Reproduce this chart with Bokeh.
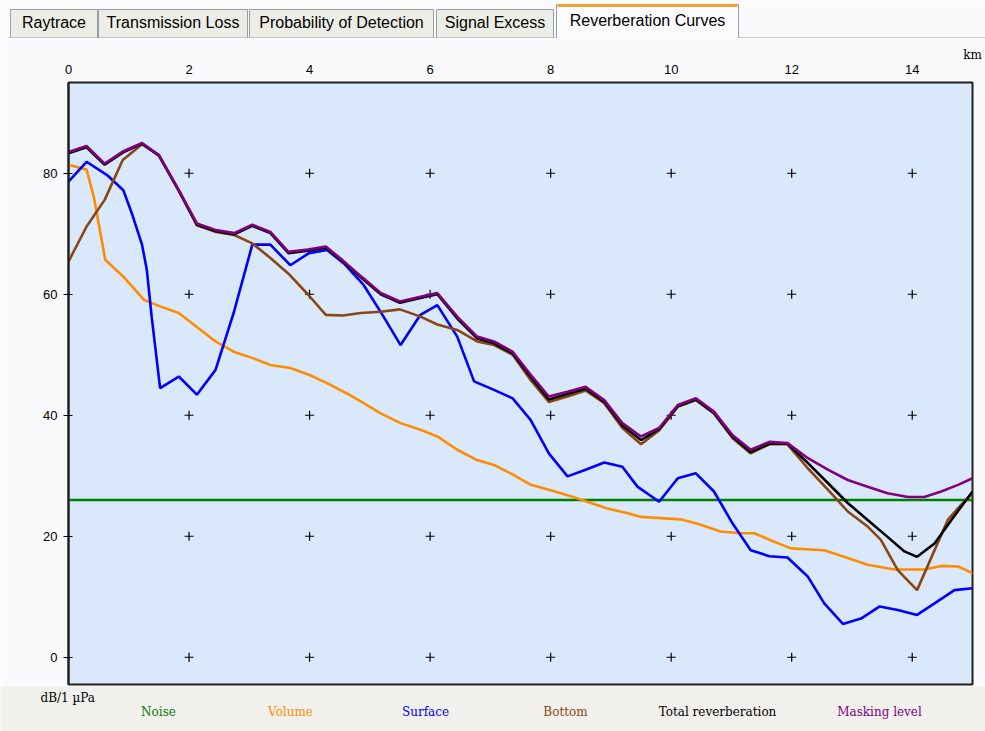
from bokeh.plotting import figure
from bokeh.models import Range1d, FixedTicker, LinearAxis, ColumnDataSource
from bokeh.layouts import column
from bokeh.core.properties import value
from bokeh.embed import file_html
from bokeh.resources import INLINE

# ---------------- data ----------------
km_ticks = [0, 2, 4, 6, 8, 10, 12, 14]
db_ticks = [0, 20, 40, 60, 80]
km_unit_tick = [15]

noise_x = [0, 15]
noise_y = [26, 26]

volume_x = [0, 0.3, 0.42, 0.61, 0.91, 1.25, 1.52, 1.83, 2.13, 2.44, 2.74, 3.07, 3.35, 3.68,
            3.99, 4.29, 4.62, 4.85, 5.18, 5.51, 5.84, 6.12, 6.45, 6.78, 7.06, 7.39, 7.67,
            7.97, 8.28, 8.61, 8.94, 9.28, 9.5, 9.83, 10.16, 10.49, 10.82, 11.16, 11.38,
            11.71, 11.99, 12.54, 12.93, 13.26, 13.7, 14.2, 14.48, 14.76, 15.0]
volume_y = [81.4, 80.6, 76.1, 65.7, 62.9, 59.1, 58.0, 56.9, 54.6, 52.2, 50.5, 49.4, 48.3, 47.8,
            46.7, 45.3, 43.6, 42.3, 40.3, 38.7, 37.6, 36.5, 34.3, 32.6, 31.8, 30.1, 28.5,
            27.7, 26.8, 25.7, 24.6, 23.8, 23.2, 23.0, 22.8, 21.9, 20.8, 20.5, 20.5,
            19.1, 18.0, 17.7, 16.4, 15.3, 14.5, 14.5, 15.1, 15.0, 13.9]

surface_x = [0, 0.3, 0.64, 0.91, 1.05, 1.22, 1.3, 1.38, 1.52, 1.83, 2.13, 2.44, 2.74, 3.05,
             3.35, 3.68, 3.99, 4.29, 4.57, 4.9, 5.21, 5.51, 5.84, 6.12, 6.45, 6.73, 7.06,
             7.37, 7.67, 7.97, 8.28, 8.58, 8.89, 9.19, 9.44, 9.8, 10.11, 10.41, 10.71,
             11.02, 11.32, 11.63, 11.93, 12.27, 12.54, 12.85, 13.15, 13.46, 13.76, 14.08,
             14.37, 14.7, 15.0]
surface_y = [78.6, 81.9, 79.7, 77.2, 73.4, 68.2, 64.0, 56.3, 44.5, 46.4, 43.4, 47.5, 56.9, 68.2,
             68.2, 64.8, 66.8, 67.3, 65.1, 61.5, 56.6, 51.6, 56.6, 58.2, 53.0, 45.6, 44.2,
             42.8, 39.2, 33.7, 29.9, 31.0, 32.2, 31.5, 28.2, 25.7, 29.6, 30.4, 27.4,
             22.1, 17.7, 16.7, 16.5, 13.3, 8.9, 5.5, 6.4, 8.4, 7.8, 7.0,
             8.9, 11.1, 11.4]

bottom_x = [0, 0.3, 0.6, 0.9, 1.22, 1.5, 1.83, 2.13, 2.45, 2.75, 3.05, 3.35, 3.65, 3.97, 4.27,
            4.55, 4.85, 5.18, 5.5, 5.84, 6.12, 6.45, 6.78, 7.06, 7.37, 7.67, 7.97, 8.28, 8.58,
            8.89, 9.19, 9.5, 9.8, 10.11, 10.41, 10.71, 11.02, 11.32, 11.63, 11.93, 12.27,
            12.6, 12.93, 13.26, 13.48, 13.76, 14.08, 14.3, 14.59, 14.81, 15.0]
bottom_y = [65.4, 71.2, 75.6, 82.2, 84.8, 83.0, 77.2, 71.4, 70.3, 69.8, 68.4, 66.0, 63.4, 60.0, 56.6,
            56.5, 56.9, 57.1, 57.5, 56.3, 55.0, 54.1, 52.2, 51.6, 50.0, 45.8, 42.2, 43.1, 44.1,
            42.0, 37.9, 35.2, 37.5, 41.4, 42.5, 40.3, 36.2, 33.7, 35.2, 35.2, 31.2,
            27.7, 24.1, 21.6, 19.4, 14.4, 11.1, 16.1, 22.7, 25.2, 27.1]

total_x = [0, 0.3, 0.6, 0.9, 1.22, 1.5, 1.83, 2.13, 2.45, 2.75, 3.05, 3.35, 3.65, 3.97, 4.27,
           4.55, 4.85, 5.18, 5.5, 5.84, 6.12, 6.45, 6.78, 7.06, 7.37, 7.67, 7.97, 8.28, 8.58,
           8.89, 9.19, 9.5, 9.8, 10.11, 10.41, 10.71, 11.02, 11.32, 11.63, 11.93, 12.27,
           12.6, 12.93, 13.26, 13.59, 13.87, 14.08, 14.37, 14.65, 15.0]
total_y = [83.3, 84.3, 81.4, 83.4, 84.9, 82.9, 77.1, 71.5, 70.4, 69.9, 71.3, 70.1, 66.8, 67.2, 67.7,
           65.4, 62.8, 60.0, 58.6, 59.4, 60.0, 56.0, 52.7, 51.9, 50.2, 46.3, 42.6, 43.5, 44.4,
           42.2, 38.3, 35.9, 37.7, 41.5, 42.6, 40.4, 36.4, 33.9, 35.3, 35.3, 32.1,
           28.8, 25.5, 22.7, 19.9, 17.5, 16.6, 18.8, 22.7, 27.4]

masking_x = [0, 0.3, 0.6, 0.9, 1.22, 1.5, 1.83, 2.13, 2.45, 2.75, 3.05, 3.35, 3.65, 3.97, 4.27,
             4.55, 4.85, 5.18, 5.5, 5.84, 6.12, 6.45, 6.78, 7.06, 7.37, 7.67, 7.97, 8.28, 8.58,
             8.89, 9.19, 9.5, 9.8, 10.11, 10.41, 10.71, 11.02, 11.32, 11.63, 11.93, 12.27,
             12.6, 12.93, 13.26, 13.59, 13.93, 14.2, 14.48, 14.76, 15.0]
masking_y = [83.5, 84.5, 81.6, 83.6, 85.0, 83.0, 77.2, 71.7, 70.6, 70.1, 71.5, 70.3, 67.0, 67.4, 67.9,
             65.6, 63.0, 60.2, 58.8, 59.6, 60.2, 56.3, 53.0, 52.2, 50.5, 46.7, 43.1, 43.9, 44.7,
             42.5, 38.7, 36.5, 37.9, 41.7, 42.8, 40.6, 36.7, 34.3, 35.6, 35.4, 32.9,
             31.0, 29.3, 28.2, 27.1, 26.5, 26.5, 27.4, 28.5, 29.6]

series_names = ["Noise", "Volume", "Surface", "Bottom", "Total reverberation", "Masking level"]
tab_names = ["Raytrace", "Transmission Loss", "Probability of Detection", "Signal Excess",
             "Reverberation Curves"]
y_unit_label = "dB/1 µPa"
x_unit_label = "km"

# ---------------- styles / layout (pixel positions) ----------------
colors = ["#008000", "#FF8C00", "#0000FF", "#8B4513", "#000000", "#800080"]
series = [(noise_x, noise_y), (volume_x, volume_y), (surface_x, surface_y),
          (bottom_x, bottom_y), (total_x, total_y), (masking_x, masking_y)]
legend_cx = [158, 290, 425, 565, 717, 879]
tab_lr = [(10, 97), (98, 247), (249, 433), (436, 553), (556, 738)]

W = 985
TAB_H, MAIN_H, LEG_H = 38, 648, 45
FL, FR, FT, FB = 68, 972, 82, 684            # frame, in page px
BG = "#FAFAFC"
SERIF = "DejaVu Serif"

# ---------------- tab strip ----------------
tabs = figure(width=W, height=TAB_H, output_backend="svg", toolbar_location=None,
              x_range=Range1d(0, W), y_range=Range1d(TAB_H, 0),
              x_axis_type=None, y_axis_type=None, min_border=0, frame_align=False,
              background_fill_color=BG, border_fill_color=BG, outline_line_color=None)
tabs.grid.visible = False
n = len(tab_names)
sel = [i == n - 1 for i in range(n)]
tabs.segment(x0=[8], y0=[37.5], x1=[W], y1=[37.5], line_color="#A0A4A8", line_width=1)
tab_src = ColumnDataSource(dict(
    left=[l for l, r in tab_lr], right=[r for l, r in tab_lr],
    top=[4 if s else 9 for s in sel], bottom=[38.5 if s else 37.5 for s in sel],
    fill=["#FCFCFE" if s else "#EDEDE7" for s in sel],
    cx=[(l + r) / 2 for l, r in tab_lr], cy=[20 if s else 22 for s in sel],
    name=tab_names))
tabs.quad(left="left", right="right", top="top", bottom="bottom", fill_color="fill",
          line_color="#9AA0A6", line_width=1, source=tab_src)
tabs.quad(left=[tab_lr[-1][0] + 1], right=[tab_lr[-1][1] - 1], top=[3.5], bottom=[6.5],
          fill_color="#F0A030", line_color=None)
tabs.text(x="cx", y="cy", text="name", source=tab_src, text_align="center",
          text_baseline="middle", text_font=value("Liberation Sans"),
          text_font_size="16px", text_color="black")

# ---------------- main chart ----------------
p = figure(width=W, height=MAIN_H, output_backend="svg", toolbar_location=None,
           x_range=Range1d(0, 15), y_range=Range1d(-4.5, 95),
           x_axis_location="above", frame_align=False,
           min_border_left=FL, min_border_right=W - FR,
           min_border_top=FT - TAB_H, min_border_bottom=TAB_H + MAIN_H - FB,
           background_fill_color="#DAE8FC", border_fill_color=BG,
           outline_line_color="#202020", outline_line_width=2)
p.grid.visible = False

xa = p.xaxis[0]
xa.ticker = FixedTicker(ticks=km_ticks)
xa.axis_line_color = None
xa.major_tick_line_color = None
xa.minor_tick_line_color = None
xa.major_tick_out = 0
xa.major_tick_in = 0
xa.major_label_standoff = 9
xa.major_label_text_font = "Liberation Sans"
xa.major_label_text_font_size = "13px"
xa.major_label_text_color = "black"

unit_axis = LinearAxis(ticker=FixedTicker(ticks=km_unit_tick),
                       major_label_overrides={15: x_unit_label},
                       axis_line_color=None, major_tick_line_color=None,
                       minor_tick_line_color=None, major_tick_out=0, major_tick_in=0,
                       major_label_standoff=0,
                       major_label_text_font=SERIF,
                       major_label_text_font_size="12px",
                       major_label_text_color="black")
p.add_layout(unit_axis, "above")

ya = p.yaxis[0]
ya.ticker = FixedTicker(ticks=db_ticks)
ya.axis_line_color = "#202020"
ya.axis_line_width = 2
ya.major_tick_line_color = "black"
ya.major_tick_out = 5
ya.major_tick_in = 4
ya.minor_tick_line_color = None
ya.major_label_standoff = 6
ya.major_label_text_font = "Liberation Sans"
ya.major_label_text_font_size = "13px"
ya.major_label_text_color = "black"

# grid "+" markers
gx = [x for x in km_ticks[1:] for y in db_ticks]
gy = [y for x in km_ticks[1:] for y in db_ticks]
p.scatter(gx, gy, marker="cross", size=9, line_color="black", line_width=1.2)

for (xs, ys), c in zip(series, colors):
    p.line(xs, ys, line_color=c, line_width=2.6)

# ---------------- legend strip ----------------
leg = figure(width=W, height=LEG_H, output_backend="svg", toolbar_location=None,
             x_range=Range1d(0, W), y_range=Range1d(TAB_H + MAIN_H + LEG_H, TAB_H + MAIN_H),
             x_axis_type=None, y_axis_type=None, min_border=0, frame_align=False,
             background_fill_color="#F1F0EC", border_fill_color="#F1F0EC",
             outline_line_color=None)
leg.grid.visible = False
leg_src = ColumnDataSource(dict(x=legend_cx, y=[711] * len(series_names),
                                text=series_names, color=colors))
leg.text(x="x", y="y", text="text", text_color="color", source=leg_src,
         text_align="center", text_baseline="middle",
         text_font=value(SERIF), text_font_size="12px")
leg.text(x=[40], y=[697], text=[y_unit_label], text_align="left", text_baseline="middle",
         text_font=value(SERIF), text_font_size="12px", text_color="black")

layout = column(tabs, p, leg, spacing=0)
open("out.html", "w").write(file_html(layout, INLINE))
